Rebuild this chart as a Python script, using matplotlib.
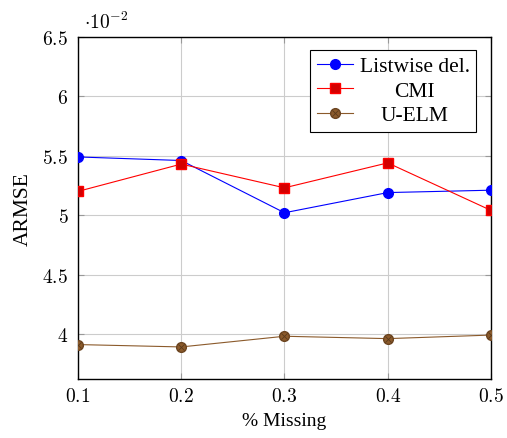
import matplotlib
matplotlib.use("Agg")
import matplotlib.pyplot as plt
from matplotlib.lines import Line2D

# % missing values and ARMSE (x 1e-2)
missing = [0.1, 0.2, 0.3, 0.4, 0.5]
listwise = [5.49, 5.46, 5.02, 5.19, 5.21]
cmi = [5.20, 5.43, 5.23, 5.44, 5.04]
uelm = [3.91, 3.89, 3.98, 3.96, 3.99]

x_ticks = [0.1, 0.2, 0.3, 0.4, 0.5]
y_ticks = [4, 4.5, 5, 5.5, 6, 6.5]
y_ticklabels = ['4', '4.5', '5', '5.5', '6', '6.5']

plt.rcParams['font.family'] = 'Liberation Serif'
plt.rcParams['mathtext.fontset'] = 'cm'

fig = plt.figure(figsize=(5.07, 4.39), dpi=100)
ax = fig.add_axes([0.1538, 0.1344, 0.8146, 0.779])

brown = '#8b5a2b'
ax.plot(missing, listwise, color='blue', lw=0.8, marker='o', ms=7,
        mfc='blue', mec='blue', label='Listwise del.', zorder=3)
ax.plot(missing, cmi, color='red', lw=0.8, marker='s', ms=7,
        mfc='#d40000', mec='red', label='CMI', zorder=3)
ax.plot(missing, uelm, color=brown, lw=0.8, marker='o', ms=7,
        mfc=brown, mec='#6b4420', label='U-ELM', zorder=3)
# the cross inside the brown markers
ax.plot(missing, uelm, ls='none', marker='x', ms=4.5, mew=0.6,
        color='#5a3a1a', zorder=4)

ax.set_xlim(0.1, 0.5)
ax.set_ylim(3.62, 6.5)
ax.set_xticks(x_ticks)
ax.set_xticklabels([f'${t:g}$' for t in x_ticks], fontsize=14)
ax.set_yticks(y_ticks)
ax.set_yticklabels([f'${t}$' for t in y_ticklabels], fontsize=14)
ax.grid(True, color='#cccccc', lw=0.8)
ax.set_axisbelow(True)
ax.tick_params(direction='in', length=4, color='#999999', top=True, right=True)
ax.tick_params(axis='x', pad=6)
ax.tick_params(axis='y', pad=7)
for s in ax.spines.values():
    s.set_linewidth(1.0)

ax.set_xlabel('% Missing', fontsize=14, labelpad=5)
ax.set_ylabel('ARMSE', fontsize=15.5, labelpad=7)
fig.text(0.165, 0.935, r'$\cdot 10^{-2}$', fontsize=14)

h_uelm = (Line2D([], [], color=brown, lw=0.8, marker='o', ms=7, mfc=brown, mec='#6b4420'),
          Line2D([], [], ls='none', marker='x', ms=4.5, mew=0.6, color='#5a3a1a'))
handles, labels = ax.get_legend_handles_labels()
handles[2] = h_uelm
leg = ax.legend(handles, labels, loc='upper right', bbox_to_anchor=(0.975, 0.975),
                fontsize=15.5, fancybox=False, edgecolor='black', framealpha=1,
                handlelength=1.7, borderaxespad=0.2, labelspacing=0.2,
                handletextpad=0.3, borderpad=0.3)
leg.get_frame().set_linewidth(0.8)

# centre legend entries like pgfplots does
renderer = fig.canvas.get_renderer()
widths = [t.get_window_extent(renderer).width for t in leg.get_texts()]
widest = max(widths)
for t, w in zip(leg.get_texts(), widths):
    t.set_position(((widest - w) / 2, 0))

fig.savefig('out.png', dpi=100)
